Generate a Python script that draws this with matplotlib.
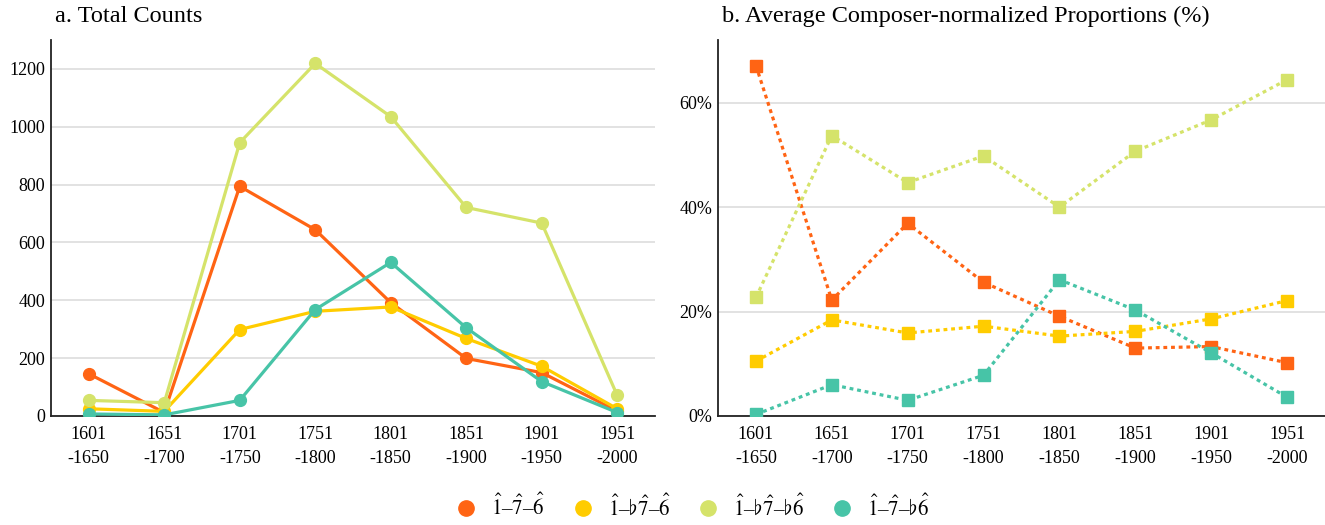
import matplotlib
matplotlib.use("Agg")
import matplotlib.pyplot as plt
from matplotlib.lines import Line2D
from matplotlib.ticker import FuncFormatter

plt.rcParams['font.family'] = ['Liberation Serif', 'DejaVu Serif']
plt.rcParams['mathtext.fontset'] = 'stix'

periods = ["1601\n-1650", "1651\n-1700", "1701\n-1750", "1751\n-1800",
           "1801\n-1850", "1851\n-1900", "1901\n-1950", "1951\n-2000"]
labels = [r'$\hat{1}$–$\hat{7}$–$\hat{6}$',
          r'$\hat{1}$–$\flat\hat{7}$–$\hat{6}$',
          r'$\hat{1}$–$\flat\hat{7}$–$\flat\hat{6}$',
          r'$\hat{1}$–$\hat{7}$–$\flat\hat{6}$']
colors = ["#ff6414", "#ffcc00", "#d5e36a", "#47c4a7"]

# a. total counts
counts_176 = [146, 12, 794, 644, 392, 199, 150, 17]
counts_1b76 = [25, 16, 299, 362, 377, 268, 172, 25]
counts_1b7b6 = [54, 46, 945, 1219, 1035, 721, 667, 71]
counts_17b6 = [7, 4, 54, 368, 531, 305, 119, 12]

# b. composer-normalized proportions (%)
prop_176 = [67.1, 22.2, 36.9, 25.6, 19.1, 13.0, 13.3, 10.2]
prop_1b76 = [10.5, 18.4, 15.9, 17.2, 15.3, 16.2, 18.6, 22.1]
prop_1b7b6 = [22.7, 53.7, 44.7, 49.8, 40.0, 50.7, 56.7, 64.4]
prop_17b6 = [0.3, 6.0, 3.0, 7.8, 26.1, 20.3, 12.1, 3.6]

counts = [counts_176, counts_1b76, counts_1b7b6, counts_17b6]
props = [prop_176, prop_1b76, prop_1b7b6, prop_17b6]

fig = plt.figure(figsize=(13.25, 5.25), dpi=100)
ax1 = fig.add_axes([51 / 1325, 109 / 525, 604 / 1325, 376 / 525])
ax2 = fig.add_axes([718 / 1325, 109 / 525, 607 / 1325, 376 / 525])

x = range(len(periods))
for ys, c in zip(counts, colors):
    ax1.plot(x, ys, color=c, lw=2.3, marker='o', ms=8.5, zorder=3)
for ys, c in zip(props, colors):
    ax2.plot(x, ys, color=c, lw=2.3, marker='s', ms=8.5, dashes=(1.2, 1.2), zorder=3)

ax1.set_ylim(0, 1300)
ax1.set_yticks([0, 200, 400, 600, 800, 1000, 1200])
ax2.set_ylim(0, 72)
ax2.set_yticks([0, 20, 40, 60])
ax2.yaxis.set_major_formatter(FuncFormatter(lambda v, p: "%d%%" % v))

for ax in (ax1, ax2):
    ax.set_xlim(-0.5, 7.5)
    ax.set_xticks(list(x))
    ax.set_xticklabels(periods)
    ax.tick_params(length=0, labelsize=13, pad=7)
    ax.tick_params(axis='y', pad=4)
    ax.grid(axis='y', color='#dddddd', lw=1.2, zorder=0)
    ax.set_axisbelow(True)
    for s in ('top', 'right'):
        ax.spines[s].set_visible(False)
    for s in ('left', 'bottom'):
        ax.spines[s].set_color('#222222')
        ax.spines[s].set_linewidth(1.3)
    for t in ax.get_xticklabels():
        t.set_linespacing(1.55)

fig.text(55 / 1325, 1 - 16 / 525, "a. Total Counts", fontsize=17.5, va='center', ha='left')
fig.text(722 / 1325, 1 - 16 / 525, "b. Average Composer-normalized Proportions (%)",
         fontsize=17.5, va='center', ha='left')

handles = [Line2D([], [], color=c, marker='o', ls='none', ms=11) for c in colors]
fig.legend(handles, labels, loc='center', bbox_to_anchor=(693 / 1325, 1 - 507 / 525),
           ncol=4, frameon=False, fontsize=15, handlelength=1.0, handletextpad=0.7,
           columnspacing=1.3)

fig.savefig("out.png", dpi=100)
